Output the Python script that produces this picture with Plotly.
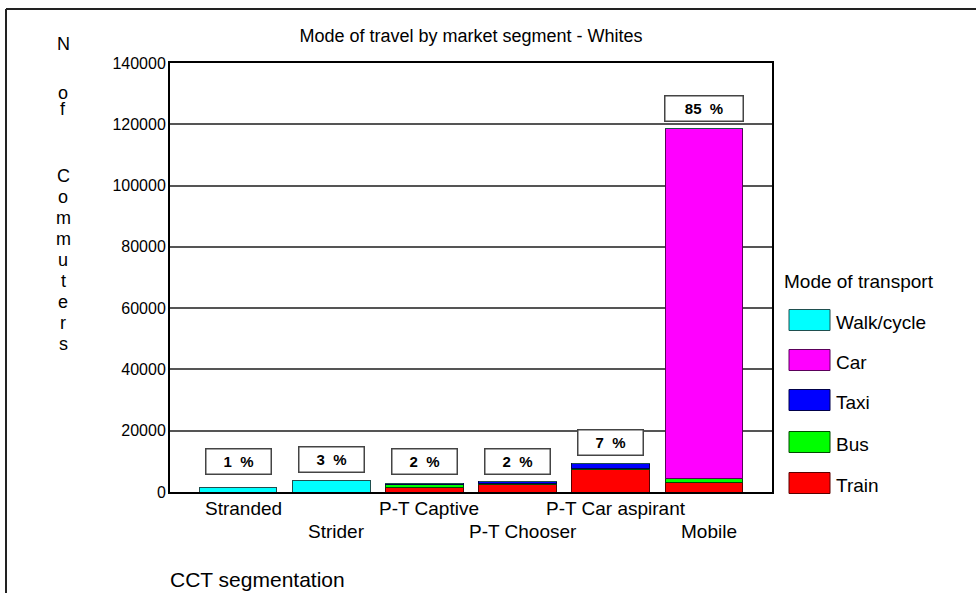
import plotly.graph_objects as go

# Commuters per CCT market segment, split by mode of transport
segments = ["Stranded", "Strider", "P-T Captive", "P-T Chooser", "P-T Car aspirant", "Mobile"]
train = [0, 0, 1600, 2600, 7400, 3000]
bus = [0, 0, 700, 100, 200, 1300]
taxi = [0, 0, 600, 700, 1800, 200]
car = [0, 0, 0, 0, 0, 114000]
walk_cycle = [1500, 3800, 0, 0, 0, 0]

y_ticks = [0, 20000, 40000, 60000, 80000, 100000, 120000, 140000]

series = [
    ("Train", train, "#ff0000", "#5a0000"),
    ("Bus", bus, "#00ff00", "#004a00"),
    ("Taxi", taxi, "#0000ff", "#00004a"),
    ("Car", car, "#ff00ff", "#5a005a"),
    ("Walk/cycle", walk_cycle, "#00ffff", "#1f4f4f"),
]

FONT = "Liberation Sans, Arial, sans-serif"
W, H = 976, 593
L, R, T, B = 170, 204, 63, 101
PW, PH = W - L - R, H - T - B


def px_x(x):
    return (x - L) / PW


def px_y(y):
    return (H - B - y) / PH


fig = go.Figure()
for name, vals, col, edge in series:
    fig.add_trace(go.Bar(
        x=list(range(len(segments))), y=vals, name=name,
        marker=dict(color=col, line=dict(color=edge, width=1)),
        width=0.836, showlegend=False,
    ))

totals = [sum(v) for v in zip(train, bus, taxi, car, walk_cycle)]
grand = sum(totals)

annotations = []
# percentage share boxes above each bar
for i, t in enumerate(totals):
    pct = round(t / grand * 100)
    annotations.append(dict(
        x=i, y=max(t, 3200), xref="x", yref="y", yanchor="bottom", yshift=7,
        text=f"<b>{pct}  %</b>", showarrow=False,
        font=dict(family=FONT, size=15, color="#000"),
        bgcolor="#ffffff", bordercolor="#444", borderwidth=1.5,
        width=62 if pct < 10 else 75, height=22, borderpad=1,
    ))

# staggered category labels
for i, s in enumerate(segments):
    annotations.append(dict(
        x=i, y=px_y(508 if i % 2 == 0 else 531), xref="x", yref="paper",
        text=s, showarrow=False, font=dict(family=FONT, size=19, color="#000"),
        xanchor="center", yanchor="middle", xshift=5,
    ))

# vertical y-axis caption, one letter per row
y_letters = [("N", 44), ("o", 93), ("f", 109), ("C", 176), ("o", 197), ("m", 218),
             ("m", 239), ("u", 260), ("t", 281), ("e", 302), ("r", 323), ("s", 344)]
for ch, yy in y_letters:
    annotations.append(dict(
        x=px_x(63), y=px_y(yy), xref="paper", yref="paper", text=ch,
        showarrow=False, font=dict(family=FONT, size=18, color="#000"),
        xanchor="center", yanchor="middle",
    ))

annotations.append(dict(
    x=px_x(168), y=px_y(579), xref="paper", yref="paper", text="CCT segmentation",
    showarrow=False, font=dict(family=FONT, size=21, color="#000"),
    xanchor="left", yanchor="middle",
))

# legend drawn beside the plot
shapes = []
annotations.append(dict(
    x=px_x(782), y=px_y(281), xref="paper", yref="paper", text="Mode of transport",
    showarrow=False, font=dict(family=FONT, size=19, color="#000"),
    xanchor="left", yanchor="middle",
))
legend_rows = [("Walk/cycle", 320), ("Car", 360), ("Taxi", 400), ("Bus", 442), ("Train", 483)]
style = {name: (col, edge) for name, _, col, edge in series}
for name, yc in legend_rows:
    col, edge = style[name]
    shapes.append(dict(
        type="rect", xref="paper", yref="paper",
        x0=px_x(789), x1=px_x(830), y0=px_y(yc + 10.5), y1=px_y(yc - 10.5),
        fillcolor=col, line=dict(color=edge, width=1),
    ))
    annotations.append(dict(
        x=px_x(834), y=px_y(yc + 2), xref="paper", yref="paper", text=name,
        showarrow=False, font=dict(family=FONT, size=19, color="#000"),
        xanchor="left", yanchor="middle",
    ))

# outer frame (top and left edges)
shapes.append(dict(type="line", xref="paper", yref="paper",
                   x0=px_x(6), x1=px_x(980), y0=px_y(9), y1=px_y(9),
                   line=dict(color="#222", width=2)))
shapes.append(dict(type="line", xref="paper", yref="paper",
                   x0=px_x(6), x1=px_x(6), y0=px_y(9), y1=px_y(600),
                   line=dict(color="#222", width=2)))

fig.update_layout(
    width=W, height=H,
    margin=dict(l=L, r=R, t=T, b=B, pad=0),
    barmode="stack",
    paper_bgcolor="#ffffff", plot_bgcolor="#ffffff",
    font=dict(family=FONT, color="#000"),
    title=dict(text="Mode of travel by market segment - Whites",
               x=px_x(471), xref="paper", xanchor="center",
               y=1 - 36 / H, yanchor="middle",
               font=dict(family=FONT, size=18, color="#000")),
    xaxis=dict(range=[-0.73, 5.73], showticklabels=False, showgrid=False,
               zeroline=False, showline=True, linecolor="#000", linewidth=2,
               mirror=True, ticks=""),
    yaxis=dict(range=[0, 140000], tickvals=y_ticks,
               ticktext=[str(v) for v in y_ticks],
               showgrid=True, gridcolor="#555", gridwidth=1.5,
               zeroline=False, showline=True, linecolor="#000", linewidth=2,
               mirror=True, ticks="", ticklabelstandoff=-1,
               tickfont=dict(family=FONT, size=16, color="#000")),
    annotations=annotations,
    shapes=shapes,
)

fig.write_html("out.html")
